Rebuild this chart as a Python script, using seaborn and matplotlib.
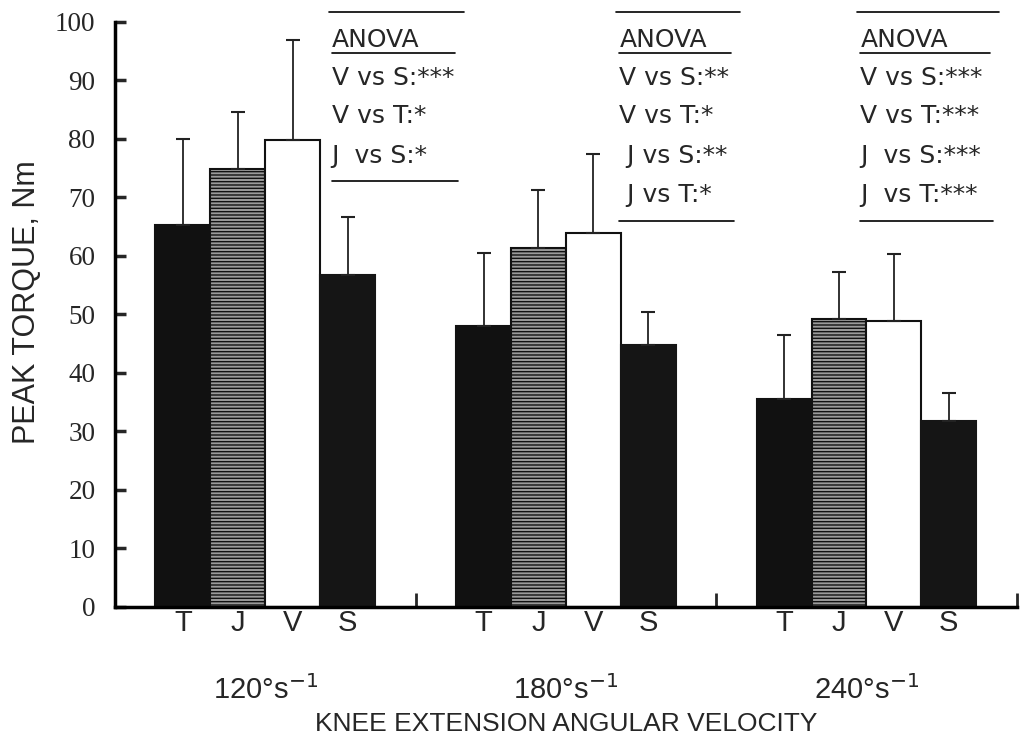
import numpy as np
import pandas as pd
import matplotlib
matplotlib.use("Agg")
import matplotlib.pyplot as plt
import matplotlib.transforms as mtransforms
from matplotlib import font_manager
import seaborn as sns

# ---- data ----
velocities = ["120", "180", "240"]
velocity_labels = ["120°s$^{-1}$", "180°s$^{-1}$", "240°s$^{-1}$"]
groups = ["T", "J", "V", "S"]
means_T = [65.3, 47.9, 35.5]
means_J = [74.9, 61.4, 49.1]
means_V = [79.8, 63.8, 48.8]
means_S = [56.7, 44.8, 31.7]
err_T = [14.7, 12.6, 10.9]
err_J = [9.6, 9.9, 8.2]
err_V = [17.0, 13.6, 11.5]
err_S = [10.0, 5.6, 4.9]
anova_texts = [
    ["V vs S:***", "V vs T:*", "J  vs S:*"],
    ["V vs S:**", "V vs T:*", " J vs S:**", " J vs T:*"],
    ["V vs S:***", "V vs T:***", "J  vs S:***", "J  vs T:***"],
]

means = {"T": means_T, "J": means_J, "V": means_V, "S": means_S}
errs = {"T": err_T, "J": err_J, "V": err_V, "S": err_S}
rows = []
for g in groups:
    for v, m in zip(velocities, means[g]):
        rows.append({"vel": v, "grp": g, "val": m})
df = pd.DataFrame(rows)

sns.set_style("white")
plt.rcParams["font.family"] = ["DejaVu Sans"]
plt.rcParams["hatch.linewidth"] = 1.0

names = {f.name for f in font_manager.fontManager.ttflist}
narrow = "Liberation Sans Narrow" if "Liberation Sans Narrow" in names else "Liberation Sans"

fig = plt.figure(figsize=(10.26, 7.49), dpi=100)
ax = fig.add_axes([0.112, 0.19, 0.879, 0.781])

sns.barplot(data=df, x="vel", y="val", hue="grp", hue_order=groups,
            order=velocities, width=0.73, errorbar=None, legend=False,
            palette=["#111111", "#7a7a7a", "white", "#151515"],
            saturation=1, ax=ax)

styles = {
    "T": dict(fc="#111111", ec="#111111", hatch=None),
    "J": dict(fc="#9a9a9a", ec="#111111", hatch="-----"),
    "V": dict(fc="white", ec="#111111", hatch=None),
    "S": dict(fc="#151515", ec="#151515", hatch=None),
}
for gi, g in enumerate(groups):
    cont = ax.containers[gi]
    xs, ys = [], []
    for bar in cont:
        st = styles[g]
        bar.set_facecolor(st["fc"])
        bar.set_edgecolor(st["ec"])
        bar.set_linewidth(1.5)
        if st["hatch"]:
            bar.set_hatch(st["hatch"])
        xs.append(bar.get_x() + bar.get_width() / 2)
        ys.append(bar.get_height())
    e = np.array(errs[g])
    ax.errorbar(xs, ys, yerr=[np.zeros_like(e), e], fmt="none",
                ecolor="#222222", elinewidth=1.3, capsize=5, capthick=1.5,
                zorder=1)

ax.set_ylim(0, 100)
ax.set_xlim(-0.5, 2.5)
ax.set_yticks(np.arange(0, 101, 10))
ax.set_yticklabels([str(t) for t in range(0, 101, 10)],
                   family="Liberation Serif", fontsize=19.5)
ax.tick_params(axis="y", direction="in", length=8, width=2.5, pad=14,
               left=True)

# x ticks: bar labels
centers = []
labels = []
for gi, g in enumerate(groups):
    for bar in ax.containers[gi]:
        centers.append(bar.get_x() + bar.get_width() / 2)
        labels.append(g)
order = np.argsort(centers)
ax.set_xticks(np.array(centers)[order])
ax.set_xticklabels(np.array(labels)[order], fontsize=21, family=narrow)
ax.tick_params(axis="x", length=0, pad=2)
ax.set_xticks([0.5, 1.5, 2.5], minor=True)
ax.tick_params(axis="x", which="minor", direction="in", length=10,
               width=2, bottom=True)

for s in ["top", "right"]:
    ax.spines[s].set_visible(False)
for s in ["left", "bottom"]:
    ax.spines[s].set_linewidth(2.5)
    ax.spines[s].set_color("black")

trans = mtransforms.blended_transform_factory(ax.transData, ax.transAxes)
for i, lab in enumerate(velocity_labels):
    ax.text(i, -0.142, lab, transform=trans, ha="center", va="center",
            fontsize=21, family=narrow)

ax.set_xlabel("KNEE EXTENSION ANGULAR VELOCITY", fontsize=19,
              family="Liberation Sans")
ax.xaxis.set_label_coords(0.5, -0.2)
ax.xaxis.label.set_va("center")
ax.set_ylabel("PEAK TORQUE, Nm", fontsize=22, family="Liberation Sans")
ax.yaxis.set_label_coords(-0.098, 0.52)
ax.yaxis.label.set_va("center")

# ANOVA annotations
x_left = [0.221, 1.178, 1.98]
x_right = [0.66, 1.58, 2.44]
row_y = [90.4, 83.8, 77.1, 70.3]
for k in range(3):
    x0 = x_left[k]
    x1 = x_right[k]
    ax.plot([x0 - 0.01, x1], [101.7, 101.7], color="black", lw=1.2,
            clip_on=False)
    ax.text(x0, 96.9, "ANOVA", fontsize=18, va="center", ha="left")
    ax.plot([x0, x1 - 0.03], [94.7, 94.7], color="black", lw=1.2)
    for r, t in enumerate(anova_texts[k]):
        ax.text(x0, row_y[r], t, fontsize=18, va="center", ha="left")
    yb = row_y[len(anova_texts[k]) - 1] - 4.3
    ax.plot([x0, x1 - 0.02], [yb, yb], color="black", lw=1.2)

fig.savefig("out.png", dpi=100)
